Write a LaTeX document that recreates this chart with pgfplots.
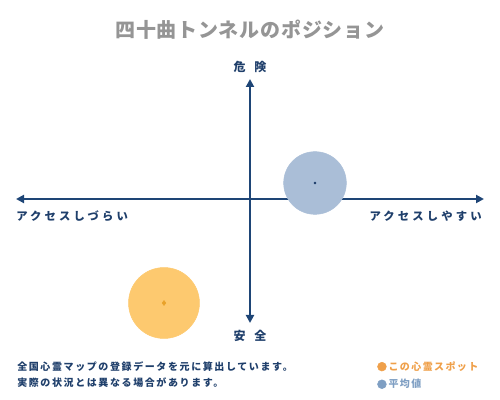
\documentclass[border=0pt]{standalone}
\usepackage{fontspec}
\usepackage{pgfplots}
\pgfplotsset{compat=1.18}
\usetikzlibrary{arrows.meta}
\setmainfont{Noto Sans CJK JP}
\newfontfamily\titlefont[LetterSpace=4]{Noto Sans CJK JP}
\newfontfamily\axfont[LetterSpace=28]{Noto Sans CJK JP}
\newfontfamily\footfont[LetterSpace=16]{Noto Sans CJK JP}
\newfontfamily\legfont[LetterSpace=14]{Noto Sans CJK JP}
\definecolor{navy}{HTML}{1F3F6B}
\definecolor{axisblue}{HTML}{1E4576}
\definecolor{titlegray}{HTML}{959595}
\definecolor{bubbleblue}{HTML}{AABED7}
\definecolor{bubbleorange}{HTML}{FDC96F}
\definecolor{dotorange}{HTML}{E9A22A}
\definecolor{legorange}{HTML}{EFA04A}
\definecolor{legblue}{HTML}{7F9FC3}
\begin{document}
\begin{tikzpicture}
\begin{axis}[
  scale only axis, width=375pt, height=300pt,
  xmin=-250, xmax=250, ymin=-201, ymax=199,
  hide axis, clip=false,
  legend style={draw=none, fill=none, at={(axis cs:127,-160)}, anchor=north west,
    font=\legfont\fontsize{7.5pt}{9pt}\selectfont\bfseries, row sep=2.2pt,
    inner sep=0pt, nodes={inner sep=1.5pt}},
  legend cell align=left,
]
\path (rel axis cs:0,0) rectangle (rel axis cs:1,1);
% axes
\draw[axisblue, line width=1.5pt, {Triangle[length=6pt,width=6pt]}-{Triangle[length=6pt,width=6pt]}] (axis cs:-234,0) -- (axis cs:234,0);
\draw[axisblue, line width=1.5pt, {Triangle[length=6pt,width=6pt]}-{Triangle[length=6pt,width=6pt]}] (axis cs:0,120) -- (axis cs:0,-124);
% bubbles
\addplot[only marks, mark=*, mark size=26.6pt, color=bubbleorange,
  mark options={draw=bubbleorange, fill=bubbleorange},
  legend image code/.code={\fill[legorange] (0.1cm,0) circle (3.3pt);}]
  coordinates {(-86,-104)};
\addlegendentry{\textcolor{legorange}{この心霊スポット}}
\addplot[only marks, mark=*, mark size=23.5pt, color=bubbleblue,
  mark options={draw=bubbleblue, fill=bubbleblue},
  legend image code/.code={\fill[legblue] (0.1cm,0) circle (3.3pt);}]
  coordinates {(65,16)};
\addlegendentry{\textcolor{legblue}{平均値}}
% centre dots
\addplot[only marks, mark=diamond*, mark size=1.8pt, color=dotorange, mark options={draw=dotorange, fill=dotorange}, forget plot]
  coordinates {(-86,-104)};
\addplot[only marks, mark=*, mark size=0.8pt, color=navy, mark options={draw=navy, fill=navy}, forget plot]
  coordinates {(65,16)};
% labels
\node[titlegray, font=\titlefont\fontsize{15pt}{18pt}\selectfont\bfseries] at (axis cs:0,169) {四十曲トンネルのポジション};
\node[navy, font=\fontsize{9pt}{11pt}\selectfont\bfseries] at (axis cs:0,132) {危\hspace{6.5pt}険};
\node[navy, font=\fontsize{9pt}{11pt}\selectfont\bfseries] at (axis cs:0,-137) {安\hspace{6.5pt}全};
\node[navy, anchor=west, inner sep=0pt, font=\axfont\fontsize{8.5pt}{10pt}\selectfont\bfseries] at (axis cs:-234,-17) {アクセスしづらい};
\node[navy, anchor=east, inner sep=0pt, font=\axfont\fontsize{8.5pt}{10pt}\selectfont\bfseries] at (axis cs:232,-17) {アクセスしやすい};
\node[navy, anchor=west, inner sep=0pt, font=\footfont\fontsize{7.5pt}{9pt}\selectfont\bfseries] at (axis cs:-233,-168) {全国心霊マップの登録データを元に算出しています。};
\node[navy, anchor=west, inner sep=0pt, font=\footfont\fontsize{7.5pt}{9pt}\selectfont\bfseries] at (axis cs:-233,-184) {実際の状況とは異なる場合があります。};
\end{axis}
\end{tikzpicture}
\end{document}
